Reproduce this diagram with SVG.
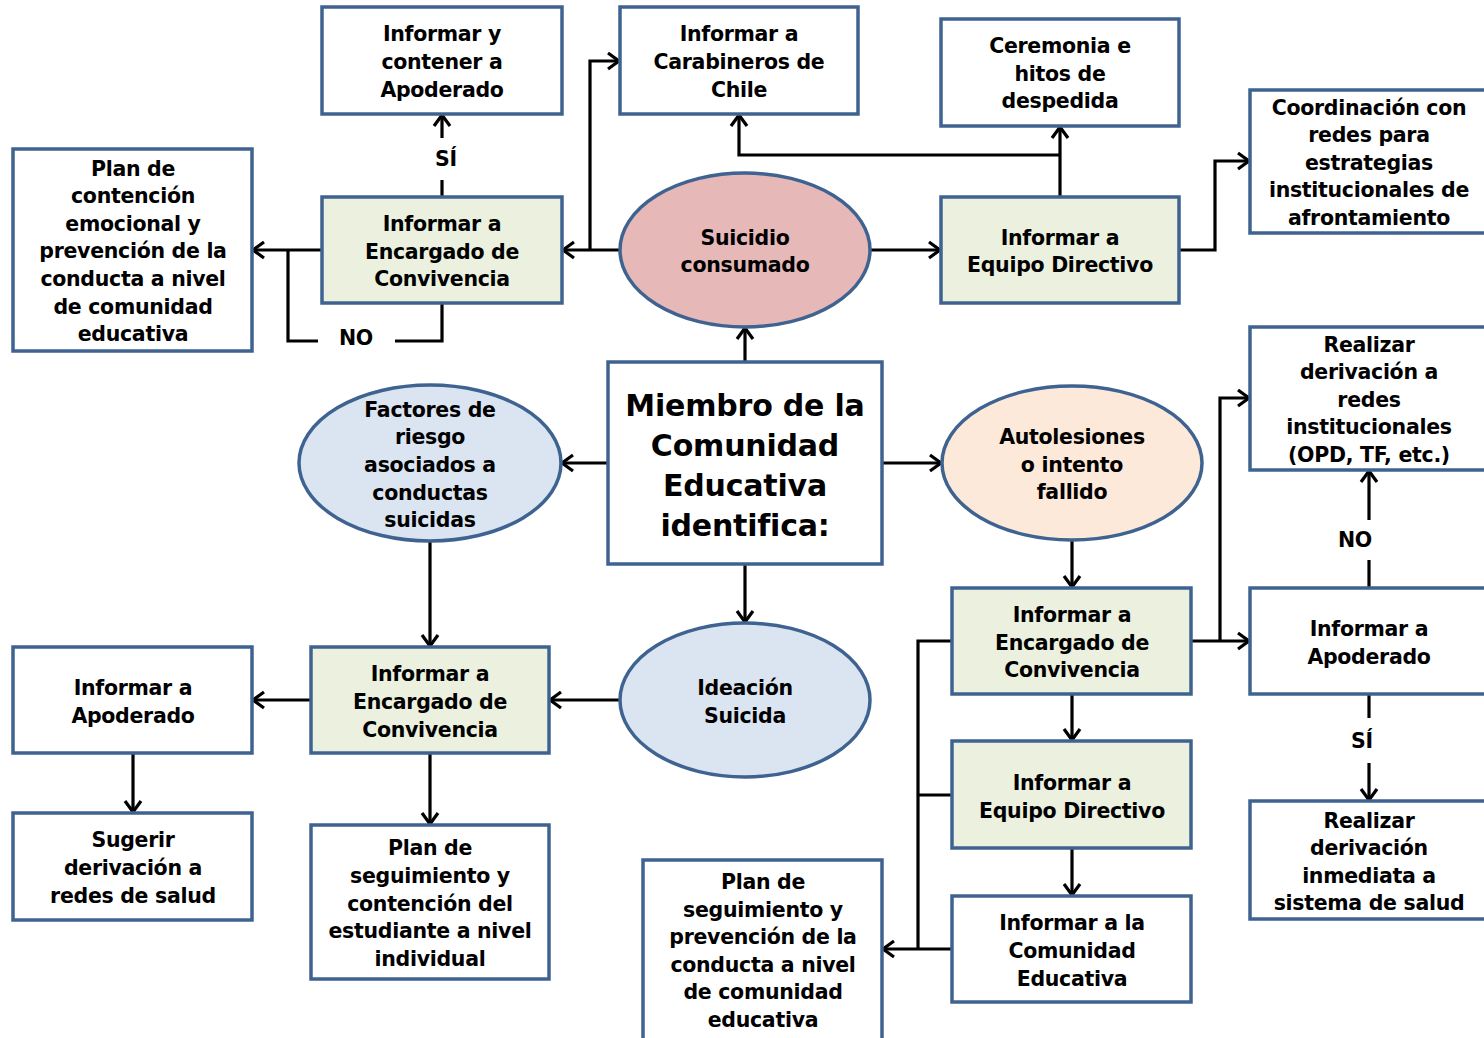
<svg xmlns="http://www.w3.org/2000/svg" width="1484" height="1038" viewBox="0 0 1484 1038">
<style>
.box{fill:#ffffff;stroke:#3F6391;stroke-width:3.5}
.grn{fill:#EBF1DE;stroke:#3F6391;stroke-width:3.5}
.red{fill:#E6B8B7;stroke:#3F6391;stroke-width:3.5}
.blu{fill:#DBE5F1;stroke:#3F6391;stroke-width:3.5}
.org{fill:#FDE9D9;stroke:#3F6391;stroke-width:3.5}
text{font-family:"DejaVu Sans","Verdana",sans-serif;font-weight:bold;font-size:20.5px;letter-spacing:-0.3px;fill:#000;text-anchor:middle}
.big{font-size:30px;letter-spacing:-0.2px}
.ln{fill:none;stroke:#000;stroke-width:3.2}
.ar{fill:none;stroke:#000;stroke-width:3.2;marker-end:url(#arr)}
</style>
<defs>
<marker id="arr" markerUnits="userSpaceOnUse" viewBox="0 0 16 20" markerWidth="16" markerHeight="20" refX="13" refY="10" orient="auto">
<path d="M2,2 L13,10 L2,18" fill="none" stroke="#000" stroke-width="3.2"/>
</marker>
</defs>
<rect width="1484" height="1038" fill="#fff"/>

<g id="connectors">
<path class="ar" d="M745,362 V328"/>
<path class="ar" d="M608,463 H562"/>
<path class="ar" d="M882,463 H941"/>
<path class="ar" d="M745,564 V622"/>
<path class="ar" d="M620,250 H563"/>
<path class="ar" d="M590,250 V61 H619"/>
<path class="ar" d="M870,250 H940"/>
<path class="ar" d="M1060,197 V127"/>
<path class="ar" d="M1060,155 H739 V115"/>
<path class="ar" d="M1179,250 H1215 V161 H1249"/>
<path class="ln" d="M442,197 V180"/>
<path class="ar" d="M442,138 V115"/>
<path class="ar" d="M322,250 H253"/>
<path class="ln" d="M442,303 V341 H395"/>
<path class="ln" d="M318,341 H288 V250"/>
<path class="ar" d="M430,541 V646"/>
<path class="ar" d="M620,700 H550"/>
<path class="ar" d="M311,700 H253"/>
<path class="ar" d="M133,753 V812"/>
<path class="ar" d="M430,753 V824"/>
<path class="ar" d="M1072,540 V587"/>
<path class="ar" d="M1191,641 H1249"/>
<path class="ar" d="M1220,641 V398 H1249"/>
<path class="ln" d="M1369,588 V560"/>
<path class="ar" d="M1369,520 V471"/>
<path class="ln" d="M1369,694 V718"/>
<path class="ar" d="M1369,763 V800"/>
<path class="ar" d="M1072,694 V740"/>
<path class="ar" d="M1072,848 V895"/>
<path class="ln" d="M952,641 H918 V949"/>
<path class="ln" d="M952,795 H918"/>
<path class="ar" d="M952,949 H883"/>
<text x="446" y="166">SÍ</text>
<text x="356" y="345">NO</text>
<text x="1355" y="547">NO</text>
<text x="1362" y="748">SÍ</text>
</g>

<g id="n-contener-apoderado">
<rect class="box" x="322" y="7" width="240" height="107"/>
<text x="442" y="41">Informar y</text>
<text x="442" y="69">contener a</text>
<text x="442" y="97">Apoderado</text>
</g>

<g id="n-carabineros">
<rect class="box" x="620" y="7" width="238" height="107"/>
<text x="739" y="41">Informar a</text>
<text x="739" y="69">Carabineros de</text>
<text x="739" y="97">Chile</text>
</g>

<g id="n-ceremonia">
<rect class="box" x="941" y="19" width="238" height="107"/>
<text x="1060" y="53">Ceremonia e</text>
<text x="1060" y="81">hitos de</text>
<text x="1060" y="108">despedida</text>
</g>

<g id="n-coordinacion">
<rect class="box" x="1250" y="90" width="238" height="143"/>
<text x="1369" y="115">Coordinación con</text>
<text x="1369" y="142">redes para</text>
<text x="1369" y="170">estrategias</text>
<text x="1369" y="197">institucionales de</text>
<text x="1369" y="225">afrontamiento</text>
</g>

<g id="n-plan-contencion">
<rect class="box" x="13" y="149" width="239" height="202"/>
<text x="133" y="176">Plan de</text>
<text x="133" y="203">contención</text>
<text x="133" y="231">emocional y</text>
<text x="133" y="258">prevención de la</text>
<text x="133" y="286">conducta a nivel</text>
<text x="133" y="314">de comunidad</text>
<text x="133" y="341">educativa</text>
</g>

<g id="n-encargado-suicidio">
<rect class="grn" x="322" y="197" width="240" height="106"/>
<text x="442" y="231">Informar a</text>
<text x="442" y="259">Encargado de</text>
<text x="442" y="286">Convivencia</text>
</g>

<g id="n-suicidio">
<ellipse class="red" cx="745" cy="250" rx="125" ry="77"/>
<text x="745" y="245">Suicidio</text>
<text x="745" y="272">consumado</text>
</g>

<g id="n-equipo-suicidio">
<rect class="grn" x="941" y="197" width="238" height="106"/>
<text x="1060" y="245">Informar a</text>
<text x="1060" y="272">Equipo Directivo</text>
</g>

<g id="n-miembro">
<rect class="box" x="608" y="362" width="274" height="202"/>
<text class="big" x="745" y="416">Miembro de la</text>
<text class="big" x="745" y="456">Comunidad</text>
<text class="big" x="745" y="496">Educativa</text>
<text class="big" x="745" y="536">identifica:</text>
</g>

<g id="n-factores">
<ellipse class="blu" cx="430" cy="463" rx="131" ry="78"/>
<text x="430" y="417">Factores de</text>
<text x="430" y="444">riesgo</text>
<text x="430" y="472">asociados a</text>
<text x="430" y="500">conductas</text>
<text x="430" y="527">suicidas</text>
</g>

<g id="n-autolesiones">
<ellipse class="org" cx="1072" cy="463" rx="130" ry="77"/>
<text x="1072" y="444">Autolesiones</text>
<text x="1072" y="472">o intento</text>
<text x="1072" y="499">fallido</text>
</g>

<g id="n-realizar-redes">
<rect class="box" x="1250" y="327" width="238" height="143"/>
<text x="1369" y="352">Realizar</text>
<text x="1369" y="379">derivación a</text>
<text x="1369" y="407">redes</text>
<text x="1369" y="434">institucionales</text>
<text x="1369" y="462">(OPD, TF, etc.)</text>
</g>

<g id="n-encargado-autolesiones">
<rect class="grn" x="952" y="588" width="239" height="106"/>
<text x="1072" y="622">Informar a</text>
<text x="1072" y="650">Encargado de</text>
<text x="1072" y="677">Convivencia</text>
</g>

<g id="n-apoderado-autolesiones">
<rect class="box" x="1250" y="588" width="238" height="106"/>
<text x="1369" y="636">Informar a</text>
<text x="1369" y="664">Apoderado</text>
</g>

<g id="n-ideacion">
<ellipse class="blu" cx="745" cy="700" rx="125" ry="77"/>
<text x="745" y="695">Ideación</text>
<text x="745" y="723">Suicida</text>
</g>

<g id="n-encargado-ideacion">
<rect class="grn" x="311" y="647" width="238" height="106"/>
<text x="430" y="681">Informar a</text>
<text x="430" y="709">Encargado de</text>
<text x="430" y="737">Convivencia</text>
</g>

<g id="n-apoderado-ideacion">
<rect class="box" x="13" y="647" width="239" height="106"/>
<text x="133" y="695">Informar a</text>
<text x="133" y="723">Apoderado</text>
</g>

<g id="n-sugerir">
<rect class="box" x="13" y="813" width="239" height="107"/>
<text x="133" y="847">Sugerir</text>
<text x="133" y="875">derivación a</text>
<text x="133" y="903">redes de salud</text>
</g>

<g id="n-plan-individual">
<rect class="box" x="311" y="825" width="238" height="154"/>
<text x="430" y="855">Plan de</text>
<text x="430" y="883">seguimiento y</text>
<text x="430" y="911">contención del</text>
<text x="430" y="938">estudiante a nivel</text>
<text x="430" y="966">individual</text>
</g>

<g id="n-equipo-autolesiones">
<rect class="grn" x="952" y="741" width="239" height="107"/>
<text x="1072" y="790">Informar a</text>
<text x="1072" y="818">Equipo Directivo</text>
</g>

<g id="n-realizar-inmediata">
<rect class="box" x="1250" y="801" width="238" height="118"/>
<text x="1369" y="828">Realizar</text>
<text x="1369" y="855">derivación</text>
<text x="1369" y="883">inmediata a</text>
<text x="1369" y="910">sistema de salud</text>
</g>

<g id="n-plan-comunidad">
<rect class="box" x="643" y="860" width="239" height="180"/>
<text x="763" y="889">Plan de</text>
<text x="763" y="917">seguimiento y</text>
<text x="763" y="944">prevención de la</text>
<text x="763" y="972">conducta a nivel</text>
<text x="763" y="999">de comunidad</text>
<text x="763" y="1027">educativa</text>
</g>

<g id="n-comunidad">
<rect class="box" x="952" y="896" width="239" height="106"/>
<text x="1072" y="930">Informar a la</text>
<text x="1072" y="958">Comunidad</text>
<text x="1072" y="986">Educativa</text>
</g>
</svg>
